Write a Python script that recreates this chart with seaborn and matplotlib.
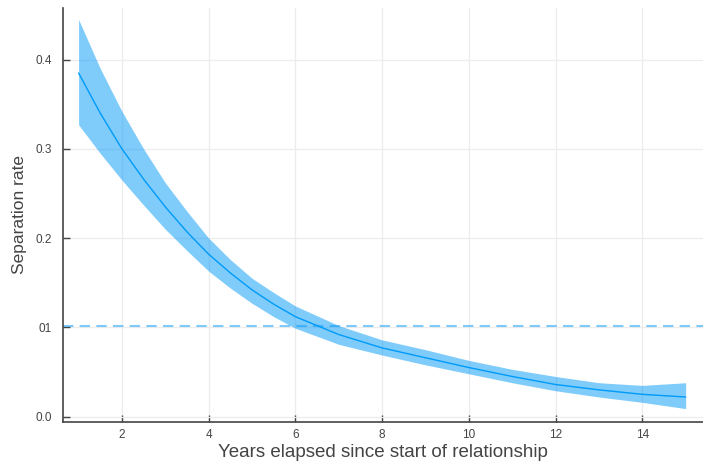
import numpy as np
import pandas as pd
import matplotlib
matplotlib.use("Agg")
import matplotlib.pyplot as plt
import seaborn as sns

# Values
years = [1, 1.5, 2, 2.5, 3, 3.5, 4, 4.5, 5, 5.5, 6, 7, 8, 9, 10, 11, 12, 13, 14, 15]
rate = [0.385, 0.340, 0.300, 0.266, 0.235, 0.207, 0.182, 0.161, 0.142, 0.126,
        0.112, 0.092, 0.077, 0.066, 0.055, 0.045, 0.036, 0.030, 0.025, 0.022]
upper = [0.445, 0.390, 0.342, 0.300, 0.262, 0.230, 0.200, 0.176, 0.155, 0.139,
         0.124, 0.102, 0.086, 0.075, 0.063, 0.053, 0.045, 0.038, 0.035, 0.038]
lower = [0.327, 0.295, 0.265, 0.237, 0.210, 0.186, 0.163, 0.144, 0.127, 0.112,
         0.099, 0.081, 0.069, 0.058, 0.048, 0.038, 0.029, 0.022, 0.016, 0.009]
baseline = 0.101

x_ticks = [2, 4, 6, 8, 10, 12, 14]
y_ticks = [0.0, 0.1, 0.2, 0.3, 0.4]
y_tick_labels = ["0.0", "01", "0.2", "0.3", "0.4"]

df = pd.DataFrame({"year": years, "rate": rate, "upper": upper, "lower": lower})

sns.set_style("white")
plt.rcParams["font.family"] = ["Liberation Sans", "DejaVu Sans"]

fig = plt.figure(figsize=(7.03, 4.65), dpi=100)
ax = fig.add_axes([0.0896, 0.0925, 0.9104, 0.8905])

blue = "#009af9"
ax.fill_between(df["year"], df["lower"], df["upper"], color=blue, alpha=0.5,
                linewidth=0)
sns.lineplot(data=df, x="year", y="rate", ax=ax, color=blue, linewidth=1)
ax.axhline(baseline, color=blue, alpha=0.5, linestyle=(0, (5, 3)), linewidth=1.5)

ax.set_xlim(0.64, 15.4)
ax.set_ylim(-0.006, 0.458)
ax.set_xticks(x_ticks)
ax.set_yticks(y_ticks)
ax.set_yticklabels(y_tick_labels)

ax.grid(True, color="#ececec", linewidth=0.9)
ax.set_axisbelow(True)
for side in ["top", "right"]:
    ax.spines[side].set_visible(False)
for side in ["left", "bottom"]:
    ax.spines[side].set_color("#444444")
    ax.spines[side].set_linewidth(1.2)

ax.tick_params(bottom=True, left=True, direction="in", length=5, width=1,
               color="#444444", labelsize=8.5, labelcolor="#444444")
ax.tick_params(axis="x", pad=5)
ax.tick_params(axis="y", pad=8)
ax.set_xlabel("Years elapsed since start of relationship", fontsize=13.5,
              color="#444444", labelpad=2)
ax.set_ylabel("Separation rate", fontsize=12.5, color="#444444", labelpad=6)

fig.savefig("out.png", dpi=100)
